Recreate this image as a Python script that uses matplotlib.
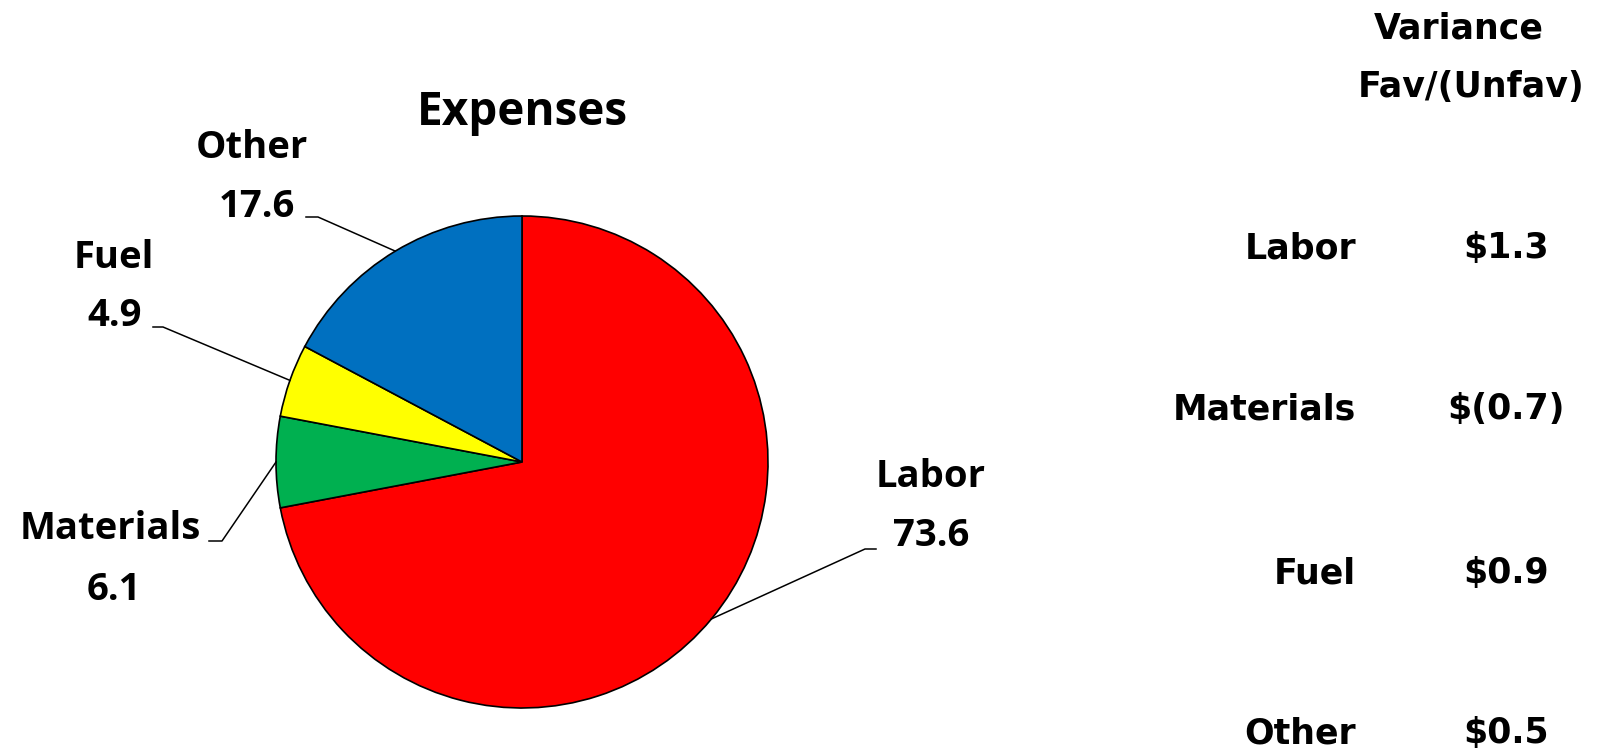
import numpy as np
import matplotlib
matplotlib.use('Agg')
import matplotlib.pyplot as plt

# expense breakdown shown in the pie
categories = ['Labor', 'Materials', 'Fuel', 'Other']
values = [73.6, 6.1, 4.9, 17.6]
colors = ['#ff0000', '#00b050', '#ffff00', '#0070c0']

# variance table on the right
var_labels = ['Labor', 'Materials', 'Fuel', 'Other']
var_values = ['$1.3', '$(0.7)', '$0.9', '$0.5']

W, H = 1600, 753
fig = plt.figure(figsize=(W / 100, H / 100), dpi=100)
ax = fig.add_axes([0, 0, 1, 1])
ax.set_xlim(0, W)
ax.set_ylim(0, H)
ax.set_aspect('equal')
ax.axis('off')

lfont = dict(family=['Open Sans', 'DejaVu Sans'], weight='bold')
rfont = dict(family=['DejaVu Sans'], weight='bold')

cx, cy, r = 522, H - 462, 246
wedges, _ = ax.pie(values, colors=colors, startangle=90, counterclock=False,
                   center=(cx, cy), radius=r,
                   wedgeprops=dict(edgecolor='black', linewidth=1.2))
ax.set_xlim(0, W)
ax.set_ylim(0, H)

ax.text(cx, H - 112, 'Expenses', ha='center', va='center', fontsize=33, **lfont)

# label placement: name pos, value pos, leader elbow (near label end, far end)
layout = {
    'Labor': ((931, 477), (931, 536), (876, 549), (865, 549)),
    'Materials': ((110, 529), (114, 590), (209, 541), (222, 541)),
    'Fuel': ((114, 258), (115, 316), (153, 327), (163, 327)),
    'Other': ((252, 148), (257, 207), (306, 217), (318, 217)),
}
for w, name, val in zip(wedges, categories, values):
    (nx, ny), (vx, vy), (ex0, ey0), (ex1, ey1) = layout[name]
    ax.text(nx, H - ny, name, ha='center', va='center', fontsize=27.5, **lfont)
    ax.text(vx, H - vy, f'{val:.1f}', ha='center', va='center', fontsize=27.5, **lfont)
    ang = np.deg2rad((w.theta1 + w.theta2) / 2)
    px, py = cx + r * np.cos(ang), cy + r * np.sin(ang)
    ax.plot([ex0, ex1, px], [H - ey0, H - ey1, py], color='black', lw=1.1)

ax.text(1459, H - 28, 'Variance', ha='center', va='center', fontsize=25, **rfont)
ax.text(1471, H - 87, 'Fav/(Unfav)', ha='center', va='center', fontsize=25, **rfont)
for lab, v, y in zip(var_labels, var_values, [248, 409, 573, 733]):
    ax.text(1356, H - y, lab, ha='right', va='center', fontsize=25, **rfont)
    ax.text(1506, H - y, v, ha='center', va='center', fontsize=25, **rfont)

fig.savefig('out.png', dpi=100, facecolor='white')
